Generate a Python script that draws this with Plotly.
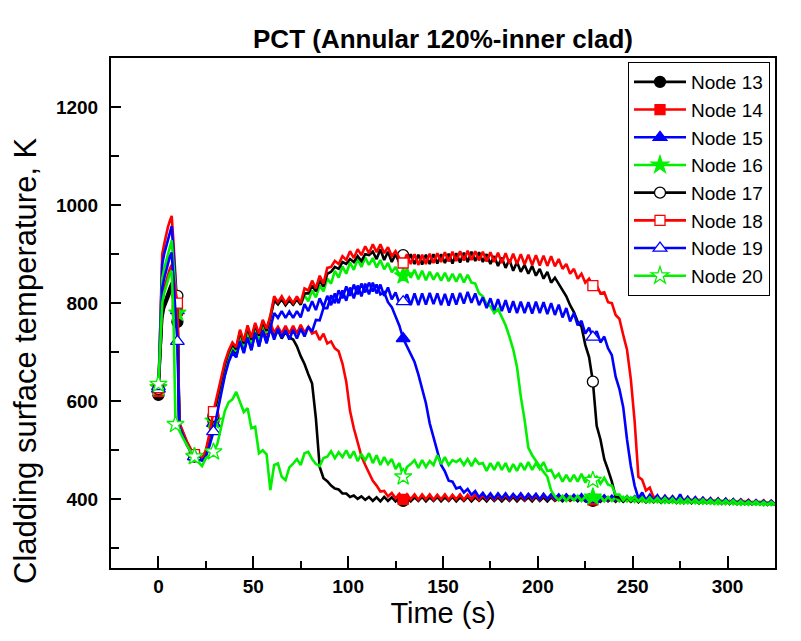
import plotly.graph_objects as go

# ---- data ----
time_s = [0, 1, 2, 3, 4, 5, 6, 7, 8, 9, 10] + list(range(11, 326, 2))

node13 = [613, 700, 780, 800, 812, 822, 832, 842, 820, 795, 762,
          548, 530, 512, 498, 487, 482, 480, 492, 522, 560,
          592, 628, 665, 690, 705, 698, 725, 705, 732, 712,
          740, 720, 745, 725, 748, 732, 745, 728, 742, 730,
          726, 712, 692, 676, 655, 636, 565, 466, 443, 437,
          428, 422, 420, 412, 412, 405, 408, 401, 406, 399,
          405, 397, 404, 396, 405, 397, 404, 396, 404, 397,
          405, 396, 404, 397, 405, 396, 404, 397, 405, 396,
          404, 397, 405, 396, 404, 397, 405, 396, 404, 397,
          404, 396, 405, 397, 404, 396, 404, 397, 405, 396,
          404, 397, 404, 396, 405, 397, 404, 396, 404, 397,
          403, 396, 404, 397, 403, 396, 404, 396, 403, 397,
          402, 395, 403, 396, 402, 395, 403, 395, 402, 395,
          401, 394, 402, 394, 401, 394, 401, 393, 400, 394,
          400, 393, 400, 393, 399, 392, 400, 392, 399, 393,
          398, 392, 398, 391, 398, 392, 397, 391, 397, 391,
          396, 391, 396, 390, 395, 390, 395, 390]

node14 = [620, 760, 900, 920, 940, 955, 968, 978, 920, 850, 785,
          552, 532, 514, 500, 488, 483, 481, 494, 525, 565,
          598, 635, 672, 698, 715, 705, 738, 715, 745, 722,
          752, 728, 755, 735, 760, 740, 752, 738, 754, 738,
          754, 738, 756, 740, 752, 738, 742, 725, 738, 718,
          722, 708, 702, 677, 640, 580, 545, 515, 488, 470,
          455, 438, 428, 416, 417, 406, 413, 402, 411, 400,
          410, 400, 410, 399, 410, 400, 410, 399, 409, 400,
          410, 399, 409, 400, 410, 399, 409, 400, 410, 399,
          409, 400, 410, 399, 409, 400, 410, 399, 409, 400,
          409, 399, 410, 400, 409, 399, 409, 400, 409, 399,
          408, 400, 409, 399, 408, 400, 408, 399, 408, 399,
          407, 398, 407, 398, 406, 398, 406, 397, 406, 397,
          405, 396, 405, 396, 404, 395, 404, 395, 403, 395,
          402, 394, 402, 394, 401, 393, 401, 393, 400, 393,
          399, 392, 399, 392, 398, 391, 398, 391, 397, 391,
          396, 390, 396, 390, 395, 390, 395, 389]

node15 = [625, 750, 880, 900, 915, 930, 945, 957, 900, 840, 785,
          550, 531, 513, 499, 487, 482, 480, 490, 518, 555,
          588, 625, 660, 688, 702, 690, 728, 700, 735, 705,
          742, 712, 745, 720, 750, 726, 748, 730, 745, 726,
          746, 728, 748, 732, 752, 742, 766, 765, 790, 790,
          816, 800, 826, 810, 834, 815, 838, 818, 840, 822,
          842, 824, 838, 818, 822, 802, 792, 772, 754, 728,
          712, 698, 680, 655, 625, 596, 555, 525, 500, 470,
          457, 438, 436, 422, 425, 414, 421, 409, 417, 404,
          413, 402, 412, 401, 412, 402, 412, 401, 411, 402,
          412, 401, 411, 402, 411, 400, 411, 401, 410, 401,
          410, 400, 410, 401, 409, 400, 410, 399, 409, 400,
          408, 399, 408, 399, 407, 399, 407, 398, 406, 398,
          406, 397, 405, 397, 405, 396, 404, 396, 404, 395,
          403, 395, 402, 394, 402, 394, 401, 393, 401, 393,
          400, 392, 399, 392, 399, 392, 398, 391, 398, 391,
          397, 391, 397, 390, 396, 390, 396, 390]

node16 = [628, 740, 850, 870, 885, 900, 915, 928, 875, 830, 780,
          550, 532, 514, 500, 488, 483, 481, 493, 523, 560,
          595, 632, 668, 695, 712, 702, 735, 712, 742, 718,
          750, 726, 758, 740, 775, 808, 798, 810, 796, 809,
          796, 810, 797, 816, 804, 826, 812, 836, 824, 850,
          840, 866, 852, 875, 860, 883, 868, 890, 874, 893,
          878, 892, 873, 888, 869, 882, 863, 874, 857, 856,
          870, 852, 868, 849, 866, 847, 864, 848, 862, 846,
          862, 845, 860, 844, 860, 842, 858, 842, 840, 820,
          814, 798, 794, 780, 788, 770, 755, 732, 706, 670,
          610, 562, 505, 490, 478, 468, 456, 446, 418, 406,
          398, 407, 397, 406, 398, 407, 397, 406, 397, 405,
          397, 406, 396, 405, 397, 404, 396, 405, 396, 404,
          395, 403, 395, 402, 394, 402, 394, 401, 393, 401,
          393, 400, 392, 400, 392, 399, 392, 399, 391, 398,
          391, 398, 390, 397, 390, 397, 390, 396, 389, 396,
          389, 395, 389, 395, 388, 394, 388, 393]

node17 = [625, 700, 770, 790, 800, 812, 822, 830, 826, 821, 815,
          555, 535, 516, 502, 490, 485, 483, 497, 530, 570,
          605, 640, 675, 700, 716, 706, 742, 718, 750, 726,
          756, 734, 762, 744, 770, 806, 798, 808, 796, 806,
          797, 808, 797, 820, 820, 836, 824, 846, 834, 860,
          864, 874, 870, 884, 880, 890, 884, 896, 886, 900,
          898, 905, 890, 910, 888, 905, 884, 900, 882, 898,
          882, 900, 880, 899, 879, 899, 880, 900, 881, 900,
          882, 901, 881, 902, 883, 903, 884, 905, 886, 904,
          884, 900, 880, 896, 876, 893, 872, 889, 866, 884,
          864, 878, 860, 876, 856, 870, 850, 864, 842, 852,
          840, 826, 814, 796, 782, 762, 752, 715, 690, 640,
          550, 522, 482, 460, 436, 405, 404, 396, 405, 396,
          405, 395, 404, 395, 404, 395, 403, 394, 403, 394,
          402, 393, 402, 393, 401, 393, 401, 392, 400, 392,
          399, 392, 399, 391, 398, 391, 398, 391, 397, 390,
          397, 390, 396, 390, 396, 389, 395, 389]

node18 = [628, 720, 810, 830, 845, 858, 870, 878, 850, 825, 800,
          556, 536, 518, 503, 491, 486, 484, 500, 535, 579,
          612, 646, 680, 703, 720, 710, 746, 722, 755, 730,
          760, 738, 766, 748, 774, 814, 802, 814, 800, 812,
          800, 814, 800, 830, 826, 846, 830, 856, 840, 872,
          874, 886, 880, 896, 888, 906, 892, 910, 898, 916,
          902, 920, 904, 920, 902, 914, 896, 906, 892, 882,
          900, 880, 900, 878, 899, 880, 901, 882, 902, 884,
          904, 885, 905, 886, 906, 887, 907, 888, 906, 887,
          905, 885, 904, 884, 903, 882, 902, 881, 901, 880,
          900, 879, 899, 878, 898, 877, 897, 876, 896, 875,
          890, 870, 880, 860, 870, 850, 860, 842, 850, 836,
          836, 820, 822, 802, 800, 776, 768, 735, 705, 645,
          560, 446, 440, 418, 424, 404, 406, 398, 407, 398,
          406, 397, 405, 396, 405, 396, 404, 395, 403, 395,
          402, 394, 402, 393, 401, 393, 400, 392, 400, 392,
          399, 391, 398, 391, 398, 390, 397, 390]

node19 = [630, 730, 830, 850, 865, 880, 895, 903, 850, 780, 722,
          548, 529, 511, 497, 487, 481, 479, 487, 510, 538,
          575, 615, 652, 680, 698, 690, 722, 698, 730, 704,
          740, 712, 744, 718, 748, 780, 770, 784, 770, 783,
          770, 784, 771, 798, 784, 804, 786, 810, 792, 815,
          796, 820, 800, 826, 805, 832, 810, 836, 814, 840,
          818, 842, 820, 838, 815, 832, 808, 822, 800, 803,
          818, 796, 820, 796, 820, 797, 821, 798, 820, 796,
          819, 795, 820, 797, 821, 799, 823, 801, 820, 796,
          812, 790, 810, 786, 808, 784, 806, 781, 804, 780,
          803, 780, 802, 779, 803, 780, 802, 778, 800, 776,
          797, 771, 790, 763, 780, 755, 764, 738, 750, 731,
          743, 720, 732, 708, 694, 650, 625, 588, 522, 468,
          428, 402, 414, 398, 409, 397, 408, 396, 407, 396,
          406, 395, 410, 394, 405, 394, 404, 393, 403, 393,
          402, 392, 401, 392, 401, 391, 400, 391, 399, 391,
          398, 390, 398, 390, 397, 389, 397, 389]

node20 = [635, 720, 800, 820, 835, 848, 860, 866, 760, 553, 545,
          540, 525, 510, 497, 487, 476, 468, 484, 490, 497,
          512, 545, 580, 598, 604, 619, 600, 578, 586, 545,
          548, 494, 500, 492, 419, 470, 473, 446, 439, 465,
          473, 482, 470, 494, 497, 482, 472, 468, 484, 487,
          498, 484, 496, 486, 500, 484, 498, 478, 492, 480,
          494, 474, 490, 470, 486, 472, 482, 462, 474, 446,
          466, 472, 480, 464, 480, 466, 478, 470, 490, 472,
          486, 470, 480, 476, 482, 470, 482, 468, 482, 472,
          474, 458, 474, 460, 476, 460, 474, 456, 472, 458,
          474, 460, 476, 460, 474, 462, 476, 458, 460, 444,
          452, 436, 450, 436, 450, 436, 452, 434, 448, 439,
          446, 432, 444, 430, 428, 410, 410, 398, 406, 397,
          405, 396, 404, 395, 404, 395, 403, 394, 403, 394,
          402, 393, 402, 393, 401, 393, 400, 392, 400, 392,
          399, 391, 399, 391, 398, 391, 398, 390, 397, 390,
          396, 390, 396, 389, 395, 389, 395, 389]

node_names = ["Node 13", "Node 14", "Node 15", "Node 16",
              "Node 17", "Node 18", "Node 19", "Node 20"]
marker_times = [0, 10, 19, 29, 129, 229]
marker_times_20 = [0, 9, 19, 29, 129, 229]

series = [node13, node14, node15, node16, node17, node18, node19, node20]
for s in series:
    assert len(s) == len(time_s), (len(s), len(time_s))

# ---- styles ----
colors = ["#000000", "#ff0000", "#0000ff", "#00f000",
          "#000000", "#ff0000", "#0000ff", "#00f000"]
symbols = ["circle", "square", "triangle-up", "star",
           "circle", "square", "triangle-up", "star"]
sizes = [11, 10, 12, 13, 11, 10, 12, 13]
filled = [True, True, True, True, False, False, False, False]

FONT = "Liberation Sans, Arial, sans-serif"
fig = go.Figure()

for i, (name, vals) in enumerate(zip(node_names, series)):
    col = colors[i]
    fill = col if filled[i] else "#ffffff"
    mk = dict(symbol=symbols[i], size=sizes[i], color=fill,
              line=dict(color=col, width=1.3))
    fig.add_trace(go.Scatter(x=time_s, y=vals, mode="lines",
                             line=dict(color=col, width=2.6),
                             showlegend=False, legendgroup=name,
                             hoverinfo="skip"))
    mt = marker_times_20 if i == 7 else marker_times
    my = [vals[time_s.index(t)] for t in mt]
    fig.add_trace(go.Scatter(x=list(mt), y=my, mode="markers", marker=mk,
                             showlegend=False, legendgroup=name))
    fig.add_trace(go.Scatter(x=[None], y=[None], mode="lines+markers",
                             name=name, legendgroup=name,
                             line=dict(color=col, width=2.6), marker=mk))

W, H = 793, 633   # page body adds an 8px offset
PL, PT, PW, PH = 111, 58, 664, 510   # plot area in page pixels

fig.update_layout(
    width=W, height=H,
    margin=dict(l=103, r=26, t=50, b=73),
    paper_bgcolor="white", plot_bgcolor="white",
    font=dict(family=FONT, color="black"),
    title=dict(text="<b>PCT (Annular 120%-inner clad)</b>",
               x=435 / W, xanchor="center",
               y=1 - 31 / H, yanchor="middle",
               font=dict(size=26, family=FONT)),
    legend=dict(x=(770 - PL) / PW, y=(PT + PH - 62) / PH,
                xanchor="right", yanchor="top",
                bgcolor="white", bordercolor="black", borderwidth=1,
                font=dict(size=19, family=FONT),
                itemwidth=52, tracegroupgap=0),
    showlegend=True,
    annotations=[dict(text="Cladding surface temperature, K",
                      xref="paper", yref="paper",
                      x=(25 - PL) / PW, y=(PT + PH - 361) / PH,
                      xanchor="center", yanchor="middle",
                      textangle=-90, showarrow=False,
                      font=dict(size=31, family=FONT))],
)

fig.update_xaxes(
    range=[-25, 325], tickvals=[0, 50, 100, 150, 200, 250, 300],
    ticks="inside", ticklen=12, tickwidth=2, tickcolor="black",
    minor=dict(tickvals=[25, 75, 125, 175, 225, 275, 325], ticks="inside",
               ticklen=7, tickwidth=2, tickcolor="black"),
    showline=True, linecolor="black", linewidth=2, mirror=True,
    showgrid=False, zeroline=False,
    tickfont=dict(size=19, family=FONT, weight="bold"),
    title=dict(text="Time (s)", font=dict(size=29, family=FONT), standoff=0),
)
fig.update_yaxes(
    range=[260, 1300], tickvals=[400, 600, 800, 1000, 1200],
    ticks="inside", ticklen=10, tickwidth=2, tickcolor="black",
    minor=dict(tickvals=[300, 500, 700, 900, 1100], ticks="inside",
               ticklen=8, tickwidth=2, tickcolor="black"),
    showline=True, linecolor="black", linewidth=2, mirror=True,
    showgrid=False, zeroline=False,
    tickfont=dict(size=19, family=FONT, weight="bold"),
    ticklabelstandoff=7,
)

fig.write_html("out.html")
